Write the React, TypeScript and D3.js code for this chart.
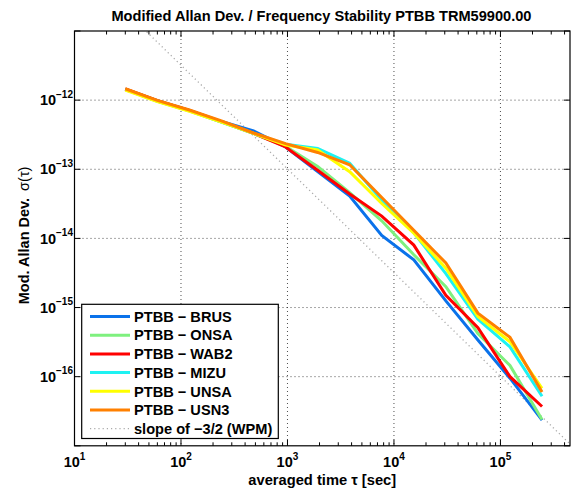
import React from "react";
import * as d3 from "d3";

const taus = [30, 60, 120, 240, 480, 960, 1920, 3840, 7680, 15360, 30720, 61440, 122880, 245760];

const brus = [1.44e-12, 9.8e-13, 7.1e-13, 4.9e-13, 3.6e-13, 2.1e-13, 9.3e-14, 4.1e-14, 1.1e-14, 4.9e-15, 1.25e-15, 3.4e-16, 9.5e-17, 2.35e-17];
const onsa = [1.42e-12, 9.6e-13, 7.0e-13, 4.8e-13, 3.3e-13, 2.15e-13, 1.1e-13, 4.6e-14, 1.8e-14, 5.8e-15, 2.0e-15, 4.2e-16, 1.45e-16, 2.4e-17];
const wab2 = [1.45e-12, 9.8e-13, 7.1e-13, 4.9e-13, 3.3e-13, 2.1e-13, 9.7e-14, 4.4e-14, 2.1e-14, 8.0e-15, 1.5e-15, 5.1e-16, 1.0e-16, 3.7e-17];
const mizu = [1.43e-12, 9.7e-13, 7.0e-13, 4.8e-13, 3.3e-13, 2.3e-13, 2.0e-13, 1.22e-13, 3.6e-14, 1.2e-14, 3.1e-15, 6.8e-16, 2.7e-16, 5.2e-17];
const unsa = [1.40e-12, 9.5e-13, 6.9e-13, 4.8e-13, 3.3e-13, 2.25e-13, 1.9e-13, 9.2e-14, 3.2e-14, 1.19e-14, 3.7e-15, 7.4e-16, 3.2e-16, 6.8e-17];
const usn3 = [1.46e-12, 9.9e-13, 7.2e-13, 5.0e-13, 3.35e-13, 2.35e-13, 1.75e-13, 1.16e-13, 3.9e-14, 1.31e-14, 4.4e-15, 8.3e-16, 3.7e-16, 6.0e-17];

const seriesNames = ["PTBB \u2212 BRUS", "PTBB \u2212 ONSA", "PTBB \u2212 WAB2", "PTBB \u2212 MIZU", "PTBB \u2212 UNSA", "PTBB \u2212 USN3"];
const seriesValues = [brus, onsa, wab2, mizu, unsa, usn3];
const seriesColors = ["#0a72ea", "#7ef07e", "#ff0000", "#1ef2f2", "#ffff00", "#ff8000"];
const slopeLabel = "slope of \u22123/2 (WPM)";
const slopeCoef = 3.2e-9;
const slopeExp = -1.5;

const xTickExps = [1, 2, 3, 4, 5];
const yTickExps = [-12, -13, -14, -15, -16];

const title = "Modified Allan Dev. / Frequency Stability PTBB TRM59900.00";
const xLabel = "averaged time \u03c4 [sec]";

export default function App() {
  const W = 573, H = 493;
  const L = 74.5, R = 570, T = 31, B = 445.8;
  const x = d3.scaleLog().domain([10, 4.5e5]).range([L, R]);
  const y = d3.scaleLog().domain([1e-17, 1e-11]).range([B, T]);
  const line = d3.line<[number, number]>().x((d) => x(d[0])).y((d) => y(d[1]));

  const minor: number[] = [];
  for (let e = 1; e <= 5; e++) {
    for (let m = 2; m <= 9; m++) {
      const v = m * Math.pow(10, e);
      if (v < 4.5e5) minor.push(v);
    }
  }
  const xMajor = [1e1, 1e2, 1e3, 1e4, 1e5];
  const yMajor = [1e-17, 1e-16, 1e-15, 1e-14, 1e-13, 1e-12, 1e-11];

  const slopeTaus = [10, 4.5e5];
  const slopePts: [number, number][] = slopeTaus.map((t) => [t, slopeCoef * Math.pow(t, slopeExp)]);

  const font = "'Liberation Sans', Arial, Helvetica, sans-serif";
  const legX = 81.7, legY = 304.3, legW = 196.6, legH = 134.2;
  const rowY0 = 316.5, rowDy = 18.7;

  return (
    <svg width={W} height={H} style={{ position: "absolute", left: 0, top: 0 }} fontFamily={font}>
      <defs>
        <clipPath id="plotclip">
          <rect x={L} y={T} width={R - L} height={B - T} />
        </clipPath>
      </defs>
      <rect x={0} y={0} width={W} height={H} fill="#fff" />
      <rect x={L} y={T} width={R - L} height={B - T} fill="#fff" />
      {/* grid */}
      {xMajor.slice(1).map((v, i) => (
        <line key={"gx" + i} x1={x(v)} x2={x(v)} y1={T} y2={B} stroke="#222" strokeWidth={0.8} strokeDasharray="1,3" />
      ))}
      {yMajor.slice(1, -1).map((v, i) => (
        <line key={"gy" + i} x1={L} x2={R} y1={y(v)} y2={y(v)} stroke="#222" strokeWidth={0.8} strokeDasharray="1,3" />
      ))}
      {/* slope line and series */}
      <g clipPath="url(#plotclip)">
        <path d={line(slopePts) || ""} fill="none" stroke="#aaa" strokeWidth={1.3} strokeDasharray="1.2,3" />
        {seriesValues.map((vals, si) => (
          <path
            key={"s" + si}
            d={line(taus.map((t, i) => [t, vals[i]] as [number, number])) || ""}
            fill="none"
            stroke={seriesColors[si]}
            strokeWidth={3}
            strokeLinejoin="miter"
          />
        ))}
      </g>
      {/* ticks */}
      {minor.map((v, i) => (
        <g key={"mt" + i}>
          <line x1={x(v)} x2={x(v)} y1={B} y2={B - 3.5} stroke="#000" strokeWidth={1} />
          <line x1={x(v)} x2={x(v)} y1={T} y2={T + 3.5} stroke="#000" strokeWidth={1} />
        </g>
      ))}
      {xMajor.map((v, i) => (
        <g key={"xt" + i}>
          <line x1={x(v)} x2={x(v)} y1={B} y2={B - 6} stroke="#000" strokeWidth={1} />
          <line x1={x(v)} x2={x(v)} y1={T} y2={T + 6} stroke="#000" strokeWidth={1} />
        </g>
      ))}
      {yMajor.map((v, i) => (
        <g key={"yt" + i}>
          <line x1={L} x2={L + 6} y1={y(v)} y2={y(v)} stroke="#000" strokeWidth={1} />
          <line x1={R} x2={R - 6} y1={y(v)} y2={y(v)} stroke="#000" strokeWidth={1} />
        </g>
      ))}
      <rect x={L} y={T} width={R - L} height={B - T} fill="none" stroke="#000" strokeWidth={1.2} />
      {/* x tick labels */}
      {xTickExps.map((e, i) => (
        <text key={"xl" + i} x={x(Math.pow(10, e))} y={467} textAnchor="middle" fontWeight="bold" fontSize={14.5}>
          10<tspan dy={-7} fontSize={10}>{String(e)}</tspan>
        </text>
      ))}
      {/* y tick labels */}
      {yTickExps.map((e, i) => (
        <text key={"yl" + i} x={73} y={y(Math.pow(10, e)) + 5.2} textAnchor="end" fontWeight="bold" fontSize={14.5}>
          10<tspan dy={-7.5} fontSize={10}>{"\u2212" + String(-e)}</tspan>
        </text>
      ))}
      {/* title */}
      <text x={(L + R) / 2 - 0.8} y={20.5} textAnchor="middle" fontWeight="bold" fontSize={14.6}>
        {title}
      </text>
      {/* x label */}
      <text x={(L + R) / 2} y={485} textAnchor="middle" fontWeight="bold" fontSize={14.7}>
        {xLabel}
      </text>
      {/* y label */}
      <text transform={`translate(29, ${(T + B) / 2 - 3}) rotate(-90)`} textAnchor="middle" fontSize={14.5}>
        <tspan fontWeight="bold">Mod. Allan Dev.</tspan>
        <tspan dx={7}>{"\u03c3(\u03c4)"}</tspan>
      </text>
      {/* legend */}
      <rect x={legX} y={legY} width={legW} height={legH} fill="#fff" stroke="#000" strokeWidth={1.2} />
      {seriesNames.map((n, i) => (
        <g key={"lg" + i}>
          <line x1={90} x2={130} y1={rowY0 + i * rowDy} y2={rowY0 + i * rowDy} stroke={seriesColors[i]} strokeWidth={3} />
          <text x={134} y={rowY0 + i * rowDy + 5.2} fontWeight="bold" fontSize={14.6}>
            {n}
          </text>
        </g>
      ))}
      <line x1={90} x2={130} y1={rowY0 + 6 * rowDy} y2={rowY0 + 6 * rowDy} stroke="#aaa" strokeWidth={1.3} strokeDasharray="1.2,3" />
      <text x={134} y={rowY0 + 6 * rowDy + 5.2} fontWeight="bold" fontSize={14.6}>
        {slopeLabel}
      </text>
    </svg>
  );
}
